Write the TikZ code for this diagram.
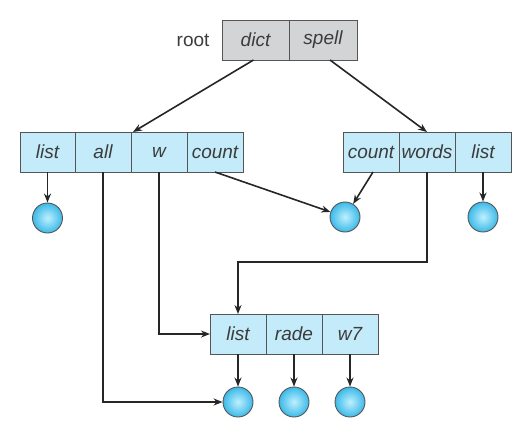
\documentclass[tikz,border=0pt]{standalone}
\usepackage{fontspec}
\setsansfont{Liberation Sans}
\usetikzlibrary{positioning,arrows.meta}

\definecolor{celdaazul}{RGB}{195,235,249}
\definecolor{celdagris}{RGB}{211,212,214}
\definecolor{borde}{RGB}{85,85,85}
\definecolor{texto}{RGB}{60,60,60}
\definecolor{bolaext}{RGB}{60,185,232}
\definecolor{bolaint}{RGB}{190,240,255}

\tikzset{
  celda/.style={draw=borde, line width=0.9pt, fill=celdaazul, minimum width=56pt, minimum height=40pt,
    inner sep=0pt, outer sep=0pt, text=texto, font=\sffamily\itshape\fontsize{19}{22}\selectfont},
  celdaraiz/.style={celda, fill=celdagris},
  bola/.style={circle, draw=borde, line width=0.9pt, minimum size=30pt, inner sep=0pt,
    inner color=bolaint, outer color=bolaext},
  flecha/.style={-{Stealth[length=9pt, width=7pt]}, line width=1.6pt, draw=black!85}
}

\begin{document}
\begin{tikzpicture}[x=1pt, y=-1pt]
            \useasboundingbox (0,0) rectangle (532,445);

            % Directorio raiz
            \node[celdaraiz, minimum width=67pt] (dict) at (255.5,40) {dict};
            \node[celdaraiz, minimum width=68pt, right=0pt of dict] (spell) {spell};
            \node[left=9pt of dict, text=texto, font=\sffamily\fontsize{19}{22}\selectfont] (root) {root};

            % Directorio izquierdo
            \node[celda, minimum width=55pt] (llist) at (47.5,152) {list};
            \node[celda, right=0pt of llist] (lall) {all};
            \node[celda, right=0pt of lall] (lw) {w};
            \node[celda, right=0pt of lw] (lcount) {count};

            % Directorio derecho
            \node[celda] (rcount) at (371,152) {count};
            \node[celda, right=0pt of rcount] (rwords) {words};
            \node[celda, right=0pt of rwords] (rlist) {list};

            % Directorio de abajo
            \node[celda] (blist) at (238,334) {list};
            \node[celda, right=0pt of blist] (brade) {rade};
            \node[celda, right=0pt of brade] (bw7) {w7};

            % Archivos
            \node[bola] (f1) at (47.5,218) {};
            \node[bola] (f2) at (345,217) {};
            \node[bola] (f3) at (483,217) {};
            \node[bola] (f4) at (238,402) {};
            \node[bola] (f5) at (294,402) {};
            \node[bola] (f6) at (350,402) {};

            % Enlaces
            \draw[flecha] ([xshift=-2pt]dict.south) -- ([xshift=2pt]lw.north west);
            \draw[flecha] ([xshift=7pt]spell.south) -- (rwords.north);
            \draw[flecha] (llist.south) -- (f1.north);
            \draw[flecha] (lcount.south) -- (f2);
            \draw[flecha] ([xshift=2pt]rcount.south) -- (f2);
            \draw[flecha] (rlist.south) -- (f3.north);
            \draw[flecha] (lall.south) |- (f4.west);
            \draw[flecha] (lw.south) |- (blist.west);
            \draw[flecha] (rwords.south) -- ++(0,90) -| (blist.north);
            \draw[flecha] (blist.south) -- (f4.north);
            \draw[flecha] (brade.south) -- (f5.north);
            \draw[flecha] (bw7.south) -- (f6.north);
        \end{tikzpicture}
\end{document}
